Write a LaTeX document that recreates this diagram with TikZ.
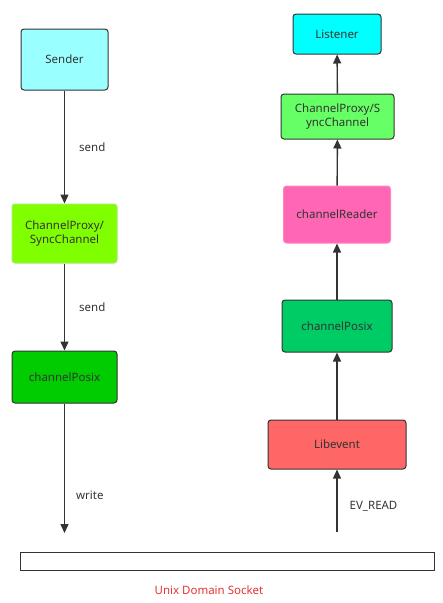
\documentclass[tikz,border=0pt]{standalone}
\usepackage{fontspec}
\setmainfont{Noto Sans}
\usetikzlibrary{arrows.meta,positioning}
\definecolor{ink}{RGB}{51,51,51}
\definecolor{skyc}{RGB}{153,255,255}
\definecolor{limec}{RGB}{128,255,0}
\definecolor{grassc}{RGB}{0,204,0}
\definecolor{aquac}{RGB}{0,255,255}
\definecolor{mintc}{RGB}{102,255,102}
\definecolor{pinkc}{RGB}{255,102,179}
\definecolor{jadec}{RGB}{0,204,102}
\definecolor{salmonc}{RGB}{255,102,102}
\definecolor{sockred}{RGB}{229,51,51}

\begin{document}
\begin{tikzpicture}[x=1pt, y=-1pt, every node/.style={font=\fontsize{11.5}{14}\selectfont, text=ink},
  box/.style={draw=ink, line width=1pt, rounded corners=3pt, align=center, inner sep=2pt},
  lbl/.style={inner sep=2pt},
  arr/.style={-{Triangle[length=9pt,width=8pt]}, line width=1.4pt, draw=ink}]
\useasboundingbox (0,0) rectangle (443,603);
% sending side
\node[box, fill=skyc, minimum width=87pt, minimum height=61pt] (sender) at (64.5,59.5) {Sender};
\node[box, fill=limec, draw=limec!85!black!60, minimum width=105pt, minimum height=59pt] (proxyL) at (64.5,233.5) {ChannelProxy/\\SyncChannel};
\node[box, fill=grassc, minimum width=105pt, minimum height=52pt] (posixL) at (64.5,377) {channelPosix};
\coordinate (sockin) at (64.5,533);
\draw[arr] (sender) -- node[lbl, right=12pt] {send} (proxyL);
\draw[arr] (proxyL) -- node[lbl, right=12pt] {send} (posixL);
\draw[arr] (posixL) -- node[lbl, right=9pt, pos=0.71] {write} (sockin);
% receiving side
\node[box, fill=aquac, minimum width=88pt, minimum height=40pt] (listener) at (337,34) {Listener};
\node[box, fill=mintc, minimum width=113pt, minimum height=45pt] (proxyR) at (337.5,116.5) {ChannelProxy/S\\yncChannel};
\node[box, fill=pinkc, draw=pinkc!80!white, minimum width=107pt, minimum height=57pt] (reader) at (337,214.5) {channelReader};
\node[box, fill=jadec, minimum width=110pt, minimum height=52pt] (posixR) at (337,326) {channelPosix};
\node[box, fill=salmonc, minimum width=138pt, minimum height=49pt] (libevent) at (337,444.5) {Libevent};
\coordinate (sockout) at (337,532);
\draw[arr] (sockout) -- node[lbl, right=10pt, pos=0.41] {EV\_READ} (libevent);
\draw[arr] (libevent) -- (posixR);
\draw[arr] (posixR) -- (reader);
\draw[arr] (reader) -- (proxyR);
\draw[arr] (proxyR) -- (listener);
% socket
\node[draw=ink, line width=1pt, minimum width=414pt, minimum height=18pt, inner sep=0pt] (socket) at (227,561) {};
\node[text=sockred] (socklbl) at (209,590) {Unix Domain Socket};
\end{tikzpicture}
\end{document}
